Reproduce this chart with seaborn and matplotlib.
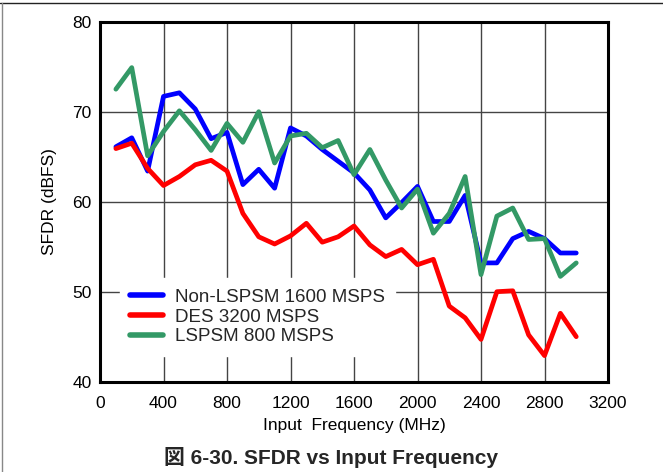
import matplotlib
matplotlib.use("Agg")
import matplotlib.pyplot as plt
import pandas as pd
import seaborn as sns
from matplotlib.lines import Line2D

# Input frequency (MHz)
freq = [100, 200, 300, 400, 500, 600, 700, 800, 900, 1000,
        1100, 1200, 1300, 1400, 1500, 1600, 1700, 1800, 1900, 2000,
        2100, 2200, 2300, 2400, 2500, 2600, 2700, 2800, 2900, 3000]

# SFDR (dBFS) per mode
non_lspsm = [66.1, 67.1, 63.4, 71.7, 72.1, 70.3, 67.0, 67.7, 61.9, 63.6,
             61.5, 68.2, 67.3, 65.8, 64.5, 63.2, 61.3, 58.2, 59.9, 61.7,
             57.8, 57.8, 60.7, 53.2, 53.2, 55.9, 56.7, 55.9, 54.3, 54.3]
des = [65.9, 66.5, 63.7, 61.8, 62.8, 64.1, 64.6, 63.4, 58.7, 56.1,
       55.3, 56.2, 57.6, 55.5, 56.1, 57.3, 55.2, 53.9, 54.7, 53.0,
       53.6, 48.4, 47.1, 44.7, 50.0, 50.1, 45.2, 42.9, 47.6, 45.0]
lspsm = [72.5, 74.9, 65.1, 67.8, 70.1, 68.0, 65.7, 68.7, 66.6, 70.0,
         64.3, 67.3, 67.6, 66.0, 66.8, 63.0, 65.8, 62.4, 59.3, 61.4,
         56.5, 58.7, 62.8, 51.9, 58.4, 59.3, 55.8, 55.9, 51.7, 53.2]

labels = ["Non-LSPSM 1600 MSPS", "DES 3200 MSPS", "LSPSM 800 MSPS"]
colors = ["#0000FF", "#FF0000", "#339966"]

sns.set_theme(style="white")
plt.rcParams["font.family"] = ["Liberation Sans", "Noto Sans CJK JP", "DejaVu Sans"]

fig = plt.figure(figsize=(6.63, 4.72), dpi=100)
ax = fig.add_axes([100 / 663, 1 - 381.7 / 472, 508 / 663, 360 / 472])

df = pd.DataFrame({"freq": freq * 3,
                   "sfdr": non_lspsm + des + lspsm,
                   "mode": [labels[0]] * 30 + [labels[1]] * 30 + [labels[2]] * 30})
sns.lineplot(data=df, x="freq", y="sfdr", hue="mode", palette=colors,
             linewidth=3.4, ax=ax, legend=False, zorder=3)

ax.set_xlim(0, 3200)
ax.set_ylim(40, 80)
ax.set_xticks(range(0, 3201, 400))
ax.set_yticks(range(40, 81, 10))
ax.grid(True, color="#444444", linewidth=1.0)
ax.tick_params(length=0, labelsize=12.5, colors="black")
ax.tick_params(axis="x", pad=10)
ax.tick_params(axis="y", pad=6)
for s in ax.spines.values():
    s.set_color("black")
    s.set_linewidth(2.2)

ax.set_xlabel("Input  Frequency (MHz)", fontsize=12.5, color="black", labelpad=5)
ax.set_ylabel("SFDR (dBFS)", fontsize=12.5, color="black", labelpad=11)

handles = [Line2D([], [], color=c, linewidth=4) for c in colors]
leg = ax.legend(handles, labels, loc="lower left", bbox_to_anchor=(0.039, 0.072),
                borderaxespad=0, fontsize=13.5, frameon=True, facecolor="white",
                edgecolor="white", framealpha=1, fancybox=False, handlelength=1.76,
                handletextpad=0.64, labelspacing=0.15, borderpad=0.55)
leg.set_zorder(4)

fig.text(0.5, 1 - 458 / 472, "図 6-30. SFDR vs Input Frequency", ha="center", va="center",
         fontsize=15, fontweight="bold")

# thin page frame on top and left
fig.add_artist(Line2D([0, 1], [1 - 3 / 472, 1 - 3 / 472], color="#222222", linewidth=1))
fig.add_artist(Line2D([1.5 / 663, 1.5 / 663], [0, 1 - 3 / 472], color="#888888", linewidth=1))

fig.savefig("out.png", dpi=100)
